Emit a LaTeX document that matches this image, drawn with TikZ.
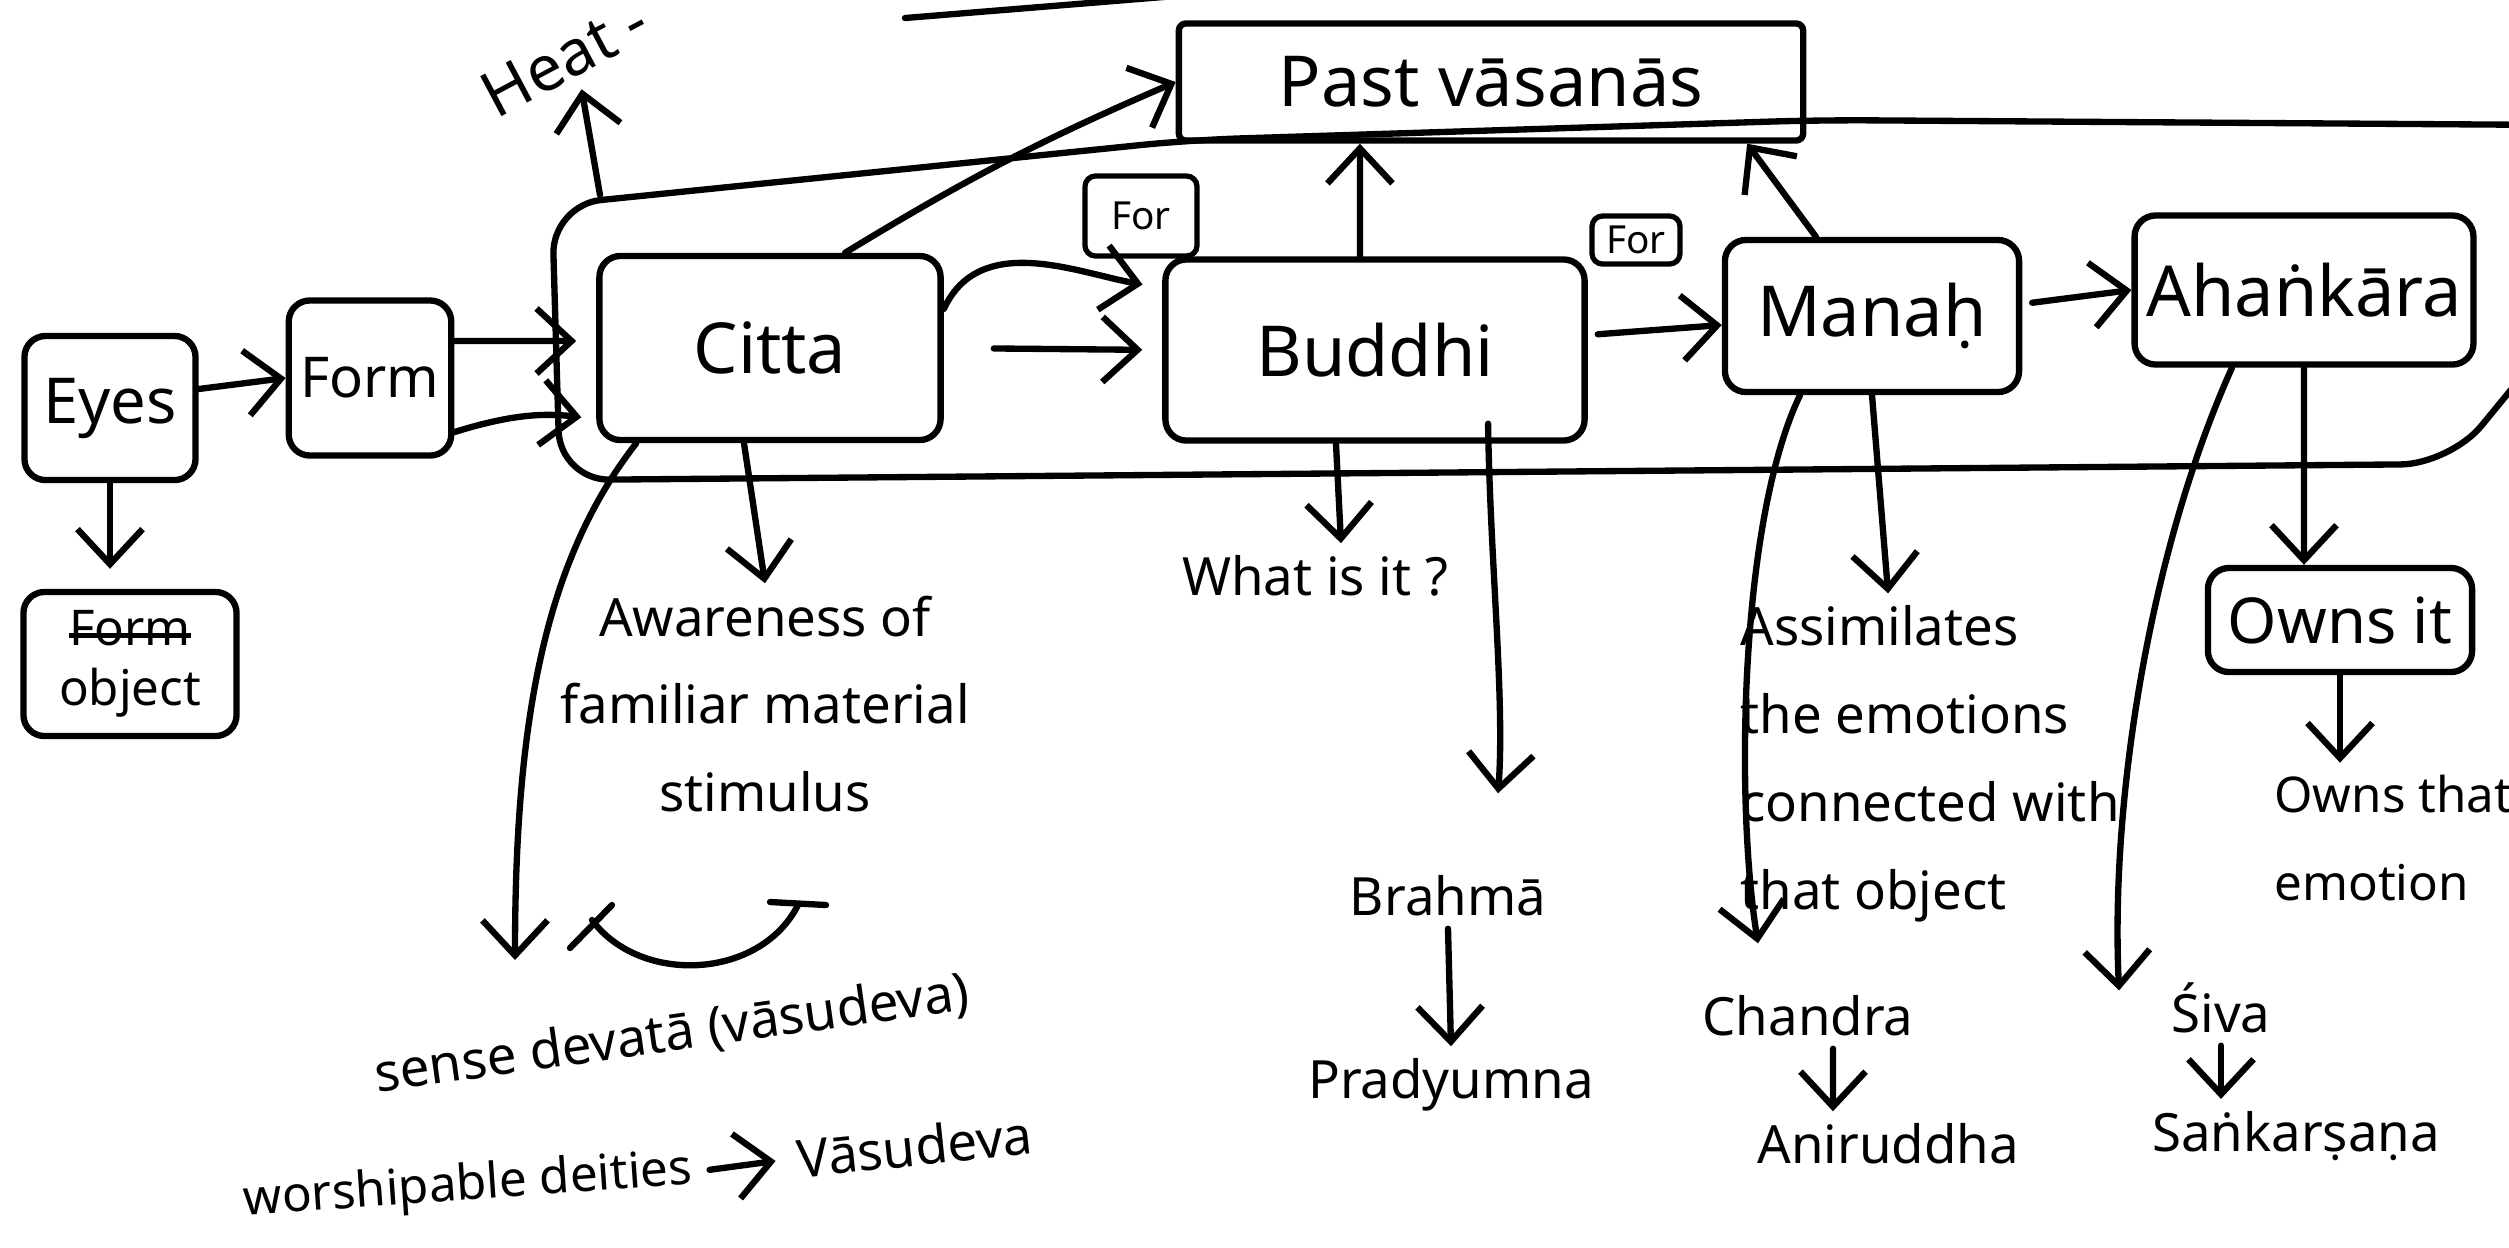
\documentclass[tikz,border=0pt]{standalone}
\usepackage{fontspec}
\setmainfont{Noto Sans}
\usetikzlibrary{arrows.meta,positioning}
\newsavebox\strikebox
\newcommand\struck[1]{\sbox\strikebox{#1}\rlap{\rule[0.3ex]{\wd\strikebox}{1.4pt}}\usebox\strikebox}

\begin{document}
\begin{tikzpicture}[x=0.01cm,y=-0.01cm,line cap=round,line join=round,
  box/.style={draw,line width=1.8pt,rounded corners=6pt,align=center,font=\fontsize{20}{24}\selectfont},
  tag/.style={draw,line width=1.5pt,rounded corners=3pt,font=\fontsize{11}{13}\selectfont,inner sep=2pt},
  note/.style={align=center,font=\fontsize{15}{25}\selectfont},
  outer/.style={draw,line width=1.8pt,rounded corners=14pt},
  pen/.style={line width=1.8pt},
  arr/.style={-{Straight Barb[length=3.5mm,width=6.5mm]},line width=1.8pt}]
\useasboundingbox (0,0) rectangle (2509,1247);

% the mind
\draw[outer] (552,205) -- (1190,140) -- (1820,120) -- (2560,125) -- (2560,330) -- (2450,464) -- (560,480) -- cycle;
\draw[pen] (905,18) -- (1200,-6);

% boxes
\node[box,minimum width=1.71cm,minimum height=1.44cm,font=\fontsize{18}{22}\selectfont] (eyes) at (110,408) {Eyes};
\node[box,minimum width=1.55cm,minimum height=1.55cm,font=\fontsize{16}{20}\selectfont] (form) at (370,378) {Form};
\node[box,minimum width=2.13cm,minimum height=1.44cm,font=\fontsize{14}{17}\selectfont] (object) at (130,664) {\struck{Form}\\object};
\node[box,minimum width=3.41cm,minimum height=1.84cm] (citta) at (770,348) {Citta};
\node[box,minimum width=4.19cm,minimum height=1.81cm] (buddhi) at (1375,350) {Buddhi};
\node[box,minimum width=2.94cm,minimum height=1.52cm] (manah) at (1872,316) {Manaḥ};
\node[box,minimum width=3.2cm,minimum height=1.49cm] (ahankara) at (2304,290) {Ahaṅkāra};
\node[box,minimum width=6.24cm,minimum height=1.17cm,rounded corners=2pt] (past) at (1491,82) {Past vāsanās};
\node[tag,minimum width=1.12cm,minimum height=0.8cm] (forA) at (1141,216) {For};
\node[tag,minimum width=0.88cm,minimum height=0.48cm] (forB) at (1636,240) {For};
\node[box,minimum width=2.64cm,minimum height=1.04cm,font=\fontsize{18}{22}\selectfont] (owns) at (2340,620) {Owns it};

% texts
\node[note,rotate=28,font=\fontsize{18}{22}\selectfont] (heat) at (565,58) {Heat -};
\coordinate (heatfoot) at (600,195);
\node[note] (aware) at (765,704) {Awareness of\\familiar material\\stimulus};
\node[note] (whatis) at (1315,576) {What is it ?};
\node[note] (brahma) at (1448,896) {Brahmā};
\node[note] (pradyumna) at (1451,1085) {Pradyumna};
\node[note,align=left,anchor=west] (assim) at (1728,764) {Assimilates\\the emotions\\connected with\\that object};
\node[note] (chandra) at (1808,1016) {Chandra};
\node[note] (aniruddha) at (1888,1144) {Aniruddha};
\node[note] (siva) at (2221,1008) {Śiva};
\node[note] (sankarsana) at (2296,1136) {Saṅkarṣaṇa};
\node[note,align=left,anchor=west,font=\fontsize{14}{25}\selectfont] (ownemo) at (2262,838) {Owns that\\emotion};
\node[note,rotate=8] (devata) at (672,1035) {sense devatā (vāsudeva)};
\coordinate (devtip) at (515,960);
\node[note,rotate=4,font=\fontsize{14}{20}\selectfont] (worship) at (468,1187) {worshipable deities};
\node[note,rotate=6] (vasudeva) at (915,1146) {Vāsudeva};

% senses
\draw[arr] ([yshift=0.19cm]eyes.east) -- (form.west);
\draw[arr,shorten >=0.2cm] (eyes.south) -- (eyes.south |- object.north);
\draw[arr,shorten >=0.2cm] ([yshift=0.37cm]form.east) -- ([yshift=0.07cm]citta.west);
\draw[arr,shorten >=0.15cm] ([yshift=-0.54cm]form.east) to[bend left=12] ([yshift=-0.71cm]citta.west);
\draw[arr] (heatfoot) -- (heat.south);

% citta
\draw[arr,shorten <=0.5cm,shorten >=0.2cm] (citta.east) -- (buddhi.west);
\draw[arr,shorten >=0.2cm] ([yshift=0.39cm]citta.east) to[out=65,in=170] ([yshift=0.62cm]buddhi.west);
\draw[arr] ([xshift=0.75cm]citta.north) to[bend left=4] (past.west);
\draw[arr] ([xshift=-0.26cm]citta.south) -- (aware.north);
\draw[arr] ([xshift=0.4cm]citta.south west) .. controls (545,560) and (515,720) .. (devtip);
\draw[pen] (570,948) -- (612,905);
\draw[pen] (592,920) .. controls (640,985) and (760,980) .. (798,905);
\draw[pen] (770,902) -- (826,905);
\draw[arr,shorten <=0.05cm,shorten >=0.1cm] (worship.east) -- (vasudeva.west);

% buddhi
\draw[arr] ([xshift=-0.15cm]buddhi.north) -- ([xshift=-1.31cm]past.south);
\draw[arr,shorten <=0.1cm] ([yshift=0.15cm]buddhi.east) -- ([yshift=-0.09cm]manah.west);
\draw[arr] ([xshift=-0.39cm]buddhi.south) -- ([xshift=0.26cm]whatis.north);
\draw[arr] ([xshift=1.13cm,yshift=0.2cm]buddhi.south) .. controls (1490,560) and (1505,700) .. ([xshift=0.5cm,yshift=0.7cm]brahma.north);
\draw[arr] (brahma.south) -- (pradyumna.north);

% manah
\draw[arr] ([xshift=-0.56cm]manah.north) -- ([xshift=2.56cm]past.south);
\draw[arr,shorten <=0.1cm] ([yshift=0.12cm]manah.east) -- (ahankara.west);
\draw[arr] (manah.south) -- ([xshift=1.6cm]assim.north west);
\draw[arr] ([xshift=-0.72cm]manah.south) .. controls (1740,520) and (1735,800) .. ([xshift=-0.5cm,yshift=0.4cm]chandra.north);
\draw[arr] ([xshift=0.25cm]chandra.south) -- ([xshift=-0.55cm]aniruddha.north);

% ahankara
\draw[arr] ([xshift=-0.72cm]ahankara.south) .. controls (2150,550) and (2110,800) .. ([xshift=-0.4cm,yshift=-0.2cm]siva.north west);
\draw[arr] (ahankara.south) -- ([xshift=-0.36cm]owns.north);
\draw[arr] (owns.south) -- (owns.south |- ownemo.north);
\draw[arr] (siva.south) -- (siva.south |- sankarsana.north);
\end{tikzpicture}
\end{document}
